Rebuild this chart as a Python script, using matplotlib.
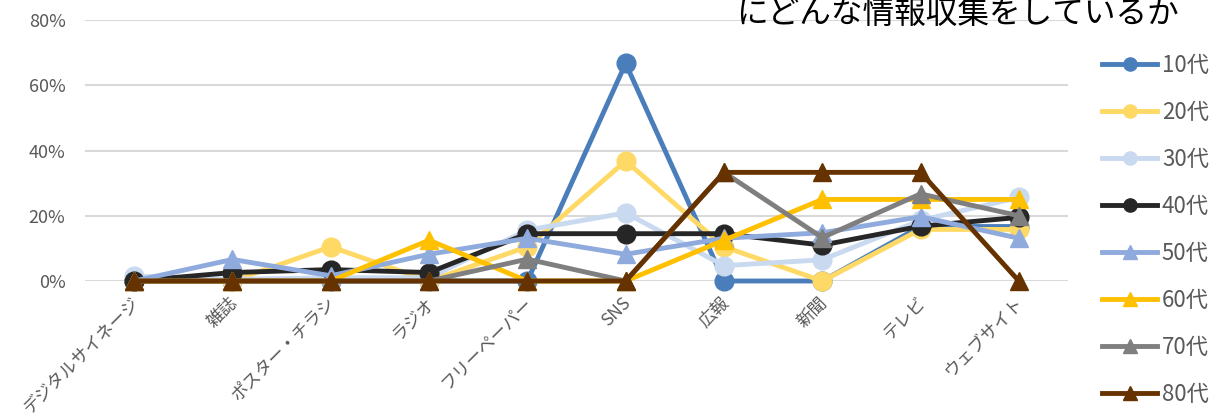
import numpy as np
import matplotlib.pyplot as plt
from matplotlib.ticker import PercentFormatter
from matplotlib.transforms import ScaledTranslation

plt.rcParams['font.family'] = ['Noto Sans CJK JP', 'DejaVu Sans']

categories = ['デジタルサイネージ', '雑誌', 'ポスター・チラシ', 'ラジオ', 'フリーペーパー',
              'SNS', '広報', '新聞', 'テレビ', 'ウェブサイト']

age_10 = [0.0, 0.0, 0.0, 0.0, 0.0, 66.7, 0.0, 0.0, 16.7, 16.7]
age_20 = [0.0, 0.0, 10.5, 0.0, 10.5, 36.8, 10.5, 0.0, 15.8, 15.8]
age_30 = [1.5, 0.5, 1.0, 1.0, 15.6, 20.9, 4.7, 6.5, 18.6, 25.6]
age_40 = [0.0, 2.6, 3.5, 2.6, 14.5, 14.5, 14.5, 11.0, 16.8, 19.5]
age_50 = [0.0, 6.6, 1.6, 8.2, 13.1, 8.2, 13.1, 14.8, 19.7, 13.1]
age_60 = [0.0, 0.0, 0.0, 12.5, 0.0, 0.0, 12.5, 25.0, 25.0, 25.0]
age_70 = [0.0, 0.0, 0.0, 0.0, 6.7, 0.0, 33.3, 13.3, 26.7, 20.0]
age_80 = [0.0, 0.0, 0.0, 0.0, 0.0, 0.0, 33.3, 33.3, 33.3, 0.0]

series = [
    ('10代', age_10, '#4a7ebb', 'o'),
    ('20代', age_20, '#ffd966', 'o'),
    ('30代', age_30, '#c9d9ef', 'o'),
    ('40代', age_40, '#262626', 'o'),
    ('50代', age_50, '#8faadc', '^'),
    ('60代', age_60, '#ffc000', '^'),
    ('70代', age_70, '#7f7f7f', '^'),
    ('80代', age_80, '#663300', '^'),
]

fig = plt.figure(figsize=(12.27, 4.18), dpi=100)
ax = fig.add_axes([85 / 1227, 137 / 418, 983 / 1227, 261 / 418])

x = np.arange(len(categories))
for label, vals, color, marker in series:
    ms = 13.5 if marker == 'o' else 13
    ax.plot(x, vals, color=color, lw=3.5, marker=marker, ms=ms,
            label=label, clip_on=False, zorder=3)

ax.set_xlim(-0.5, len(categories) - 0.5)
ax.set_ylim(0, 80)
ax.set_yticks([0, 20, 40, 60, 80])
ax.yaxis.set_major_formatter(PercentFormatter(decimals=0))
ax.grid(axis='y', color='#d9d9d9', lw=1.5, zorder=0)
for s in ax.spines.values():
    s.set_visible(False)
ax.tick_params(axis='both', length=0, colors='#595959')
ax.tick_params(axis='y', labelsize=13, pad=14)
ax.set_xticks(x)
ax.set_xticklabels(categories, rotation=45, ha='right', va='top',
                   rotation_mode='anchor', fontsize=12.5, color='#595959')
ax.tick_params(axis='x', pad=9)
# nudge the rotated labels a little to the left
shift = ScaledTranslation(-4 / 100, 0, fig.dpi_scale_trans)
for t in ax.get_xticklabels():
    t.set_transform(t.get_transform() + shift)

fig.text(957 / 1227, 1 - 23 / 418, 'にどんな情報収集をしているか',
         ha='center', va='baseline', fontsize=22.8, color='black')

leg = fig.legend(loc='upper left', bbox_to_anchor=(1093 / 1227, 1 - 45 / 418),
                 frameon=False, fontsize=16, handlelength=2.5,
                 handletextpad=0.2, labelspacing=1.08, borderaxespad=0)
for t in leg.get_texts():
    t.set_color('#595959')
for h in leg.legend_handles:
    h.set_markersize(9.5)

fig.savefig('out.png', dpi=100)
